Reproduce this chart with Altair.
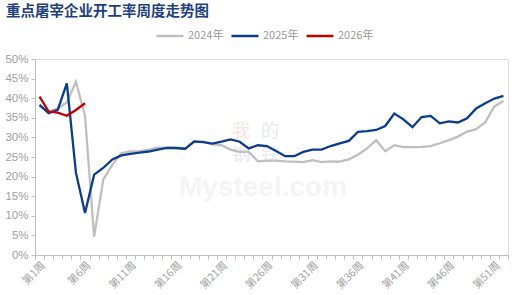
import altair as alt
import pandas as pd

weeks = list(range(1, 53))
series_names = ["2024年", "2025年", "2026年"]
series_colors = ["#BFBFBF", "#0B3B8C", "#C00000"]

rate_2024 = [38.0, 36.5, 37.4, 38.9, 44.2, 35.5, 4.7, 19.2, 23.0, 26.0,
             26.4, 26.5, 26.9, 27.4, 27.4, 27.3, 27.1, 28.8, 28.9, 28.2,
             28.0, 26.9, 26.3, 26.3, 23.9, 24.1, 24.1, 23.9, 23.8, 23.7,
             24.2, 23.7, 23.9, 23.8, 24.4, 25.6, 27.2, 29.3, 26.5, 28.0,
             27.5, 27.5, 27.6, 27.8, 28.5, 29.3, 30.2, 31.5, 32.1, 33.9,
             37.9, 39.3]
rate_2025 = [38.3, 36.2, 37.0, 43.8, 21.0, 10.7, 20.5, 22.2, 24.4, 25.4,
             25.8, 26.1, 26.4, 26.9, 27.3, 27.3, 27.1, 29.0, 28.8, 28.4,
             28.9, 29.5, 28.9, 27.2, 28.0, 27.8, 26.5, 25.2, 25.2, 26.3,
             26.9, 26.9, 27.8, 28.5, 29.1, 31.4, 31.6, 31.9, 32.9, 36.1,
             34.6, 32.6, 35.2, 35.5, 33.6, 34.1, 33.8, 34.9, 37.4, 38.7,
             39.9, 40.6]
rate_2026 = [40.4, 36.6, 36.3, 35.5, 37.0, 38.7]

y_ticks = [0, 0.05, 0.10, 0.15, 0.20, 0.25, 0.30, 0.35, 0.40, 0.45, 0.50]

rows = []
for k, (name, vals) in enumerate(zip(series_names, [rate_2024, rate_2025, rate_2026])):
    for w, v in zip(weeks, vals):
        rows.append({"week": w, "rate": v / 100.0, "series": name, "ord": k})
df = pd.DataFrame(rows)

axis_gray = "#BFBFBF"
label_gray = "#A0A0A0"

x_enc = alt.X(
    "week:O",
    scale=alt.Scale(type="band", domain=weeks, paddingInner=0, paddingOuter=0),
    axis=alt.Axis(
        title=None,
        labelAngle=-45,
        labelExpr="(datum.value - 1) % 5 == 0 ? '第' + datum.value + '周' : ''",
        labelFont="Noto Sans CJK SC",
        labelFontSize=10.5,
        labelColor=label_gray,
        labelPadding=1,
        tickBand="extent",
        tickSize=4,
        tickColor=axis_gray,
        domainColor=axis_gray,
        grid=False,
    ),
)
y_enc = alt.Y(
    "rate:Q",
    scale=alt.Scale(domain=[0, 0.5], nice=False),
    axis=alt.Axis(
        title=None,
        values=y_ticks,
        format=".0%",
        labelFont="Liberation Sans",
        labelFontSize=11.5,
        labelColor=label_gray,
        labelPadding=3,
        tickSize=4,
        tickColor=axis_gray,
        domainColor=axis_gray,
        grid=False,
    ),
)

lines = alt.Chart(df).mark_line(strokeWidth=2.3).encode(
    x=x_enc,
    y=y_enc,
    color=alt.Color(
        "series:N",
        scale=alt.Scale(domain=series_names, range=series_colors),
        legend=alt.Legend(
            title=None,
            orient="none",
            legendX=120,
            legendY=-38,
            direction="horizontal",
            symbolType="stroke",
            symbolSize=729,
            symbolStrokeWidth=2.5,
            labelFont="Noto Sans CJK SC",
            labelFontSize=11,
            labelColor="#999999",
            labelOffset=3,
            columnPadding=2,
        ),
    ),
    order=alt.Order("ord:Q"),
)

wm_base = alt.Chart(pd.DataFrame({"a": [0]}))
wm_chars = [
    ("我", 206, 73, "#F9E4E4"),
    ("的", 235, 73, "#E6EAF3"),
    ("钢", 206, 97, "#E6EAF3"),
    ("铁", 235, 97, "#E6EAF3"),
]
wm_layers = [
    wm_base.mark_text(text=t, font="Noto Sans CJK SC", fontSize=18, color=c).encode(
        x=alt.value(px), y=alt.value(py)
    )
    for t, px, py, c in wm_chars
]
wm_text = wm_base.mark_text(
    text="Mysteel.com", font="Liberation Sans", fontSize=28, fontWeight="bold", color="#F4F4F4"
).encode(x=alt.value(228), y=alt.value(129))

chart = alt.layer(*wm_layers, wm_text, lines).properties(
    width=473,
    height=196,
    autosize=alt.AutoSizeParams(type="none"),
    padding={"left": 35, "top": 59, "right": 14, "bottom": 40},
    title=alt.TitleParams(
        "重点屠宰企业开工率周度走势图",
        anchor="start",
        frame="group",
        font="Noto Sans CJK SC",
        fontSize=14.5,
        fontWeight="bold",
        color="#1F3F7F",
        offset=2,
        dx=-29,
    ),
).configure_view(stroke=None).configure(background="white")

chart.save("out.html", embed_options={"renderer": "svg", "actions": False})
